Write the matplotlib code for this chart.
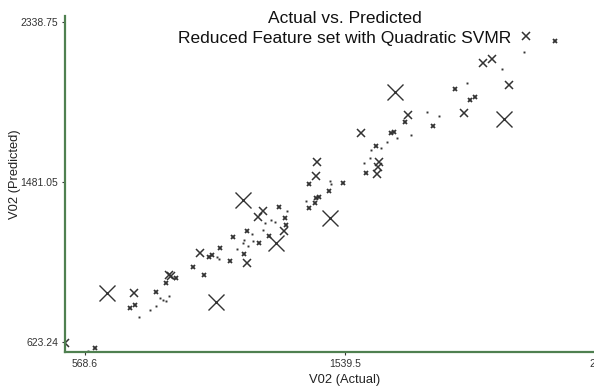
import matplotlib
matplotlib.use('Agg')
import matplotlib.pyplot as plt

plt.rcParams['font.family'] = ['Liberation Sans', 'DejaVu Sans']

# ticks (min, mid, max of the data ranges)
x_ticks = [568.6, 1539.5, 2510.4]
y_ticks = [623.24, 1481.05, 2338.75]

# points grouped by marker size (size ~ size of the error)
large_actual = [651.9, 1057.8, 1159.7, 1281.8, 1483.5, 1726.2, 2133.2]
large_pred = [884.3, 836.0, 1384.4, 1152.3, 1286.3, 1965.0, 1817.0]

medium_actual = [493.9, 751.6, 881.2, 888.6, 998.0, 1234.4, 1213.5, 1311.7, 1172.4,
                 1433.8, 1432.3, 1599.2, 1659.0, 1667.6, 1663.9, 2215.4, 2056.0,
                 2089.5, 2153.0, 1983.9, 1774.7]
medium_pred = [617.9, 887.5, 984.0, 978.6, 1101.9, 1325.5, 1291.7, 1219.8, 1048.3,
               1586.5, 1513.1, 1745.2, 1525.4, 1589.7, 1562.9, 2263.5, 2117.2,
               2140.3, 2000.9, 1849.2, 1838.5]

small_actual = [605.9, 736.6, 756.4, 833.7, 869.9, 908.4, 973.0, 1013.0, 1031.6, 1041.7,
                1073.8, 1110.1, 1122.4, 1294.2, 1316.6, 1319.2, 1172.4, 1255.7, 1219.5,
                1163.5, 1406.2, 1530.9, 1480.9, 1430.1, 1443.5, 1427.5, 1403.9, 1655.3,
                1616.8, 2323.7, 1951.4, 2006.3, 2026.1, 1869.2, 1764.7, 1710.2, 1723.6]
small_pred = [589.5, 803.9, 819.9, 892.9, 937.9, 964.7, 1026.9, 982.4, 1080.5, 1088.0,
              1127.1, 1059.0, 1187.7, 1348.5, 1289.5, 1250.4, 1219.8, 1191.4, 1155.5,
              1094.9, 1468.6, 1473.9, 1432.7, 1393.5, 1398.9, 1366.7, 1341.5, 1675.5,
              1530.8, 2238.4, 1981.0, 1920.5, 1935.0, 1782.7, 1802.5, 1742.0, 1747.3]

dot_actual = [537.6, 580.9, 771.4, 811.3, 832.6, 848.7, 861.0, 871.1, 882.3, 1060.4,
              1070.1, 1135.1, 1324.0, 1240.8, 1262.0, 1278.1, 1232.2, 1191.1, 1163.5,
              1157.5, 1176.2, 1194.8, 1483.5, 1487.2, 1393.9, 1636.6, 1631.7, 1610.4,
              2207.9, 2124.6, 1993.9, 1846.8, 1889.4, 1732.6, 1784.8, 1695.2, 1673.9]
dot_pred = [571.2, 576.6, 758.8, 794.7, 817.8, 857.5, 848.4, 841.4, 871.4, 1080.5,
            1066.5, 1121.8, 1327.1, 1259.5, 1277.2, 1264.9, 1223.6, 1202.1, 1170.0,
            1155.5, 1137.8, 1163.0, 1487.9, 1468.6, 1379.1, 1652.4, 1610.6, 1584.4,
            2179.4, 2086.6, 2013.2, 1857.7, 1833.1, 1715.2, 1732.8, 1693.7, 1664.8]

fig = plt.figure(figsize=(5.94, 3.89), dpi=100)
ax = fig.add_axes([65 / 594, 37 / 389, 560 / 594, 336 / 389])

mc = '#333333'
ax.plot(large_actual, large_pred, 'x', color=mc, ms=11, mew=1.0)
ax.plot(medium_actual, medium_pred, 'x', color=mc, ms=5.5, mew=1.1)
ax.plot(small_actual, small_pred, 'x', color=mc, ms=3.2, mew=1.3)
ax.plot(dot_actual, dot_pred, 's', color=mc, ms=1.4, mew=0)

ax.set_xlim(493.9, 2585.1)
ax.set_ylim(569.6, 2370.9)
ax.set_xticks(x_ticks)
ax.set_xticklabels(['568.6', '1539.5', '2510.4'])
ax.set_yticks(y_ticks)
ax.set_yticklabels(['623.24', '1481.05', '2338.75'])
ax.tick_params(labelsize=7.5, colors='#333333', length=2, width=0.8)
ax.tick_params(axis='y', pad=3)
ax.tick_params(axis='x', pad=3)

for s in ['top', 'right']:
    ax.spines[s].set_visible(False)
for s in ['left', 'bottom']:
    ax.spines[s].set_color('#4f8050')
    ax.spines[s].set_linewidth(1.6)

ax.set_xlabel('V02 (Actual)', fontsize=9.3, color='#222222')
ax.set_ylabel('V02 (Predicted)', fontsize=9.3, color='#222222')
ax.xaxis.set_label_coords(0.5, -0.066)
ax.yaxis.set_label_coords(-0.079, 0.53)

ax.text(0.5, 1.016, 'Actual vs. Predicted\nReduced Feature set with Quadratic SVMR',
        transform=ax.transAxes, ha='center', va='top', fontsize=12.5,
        linespacing=1.42, color='#111111')

fig.savefig('out.png', dpi=100)
